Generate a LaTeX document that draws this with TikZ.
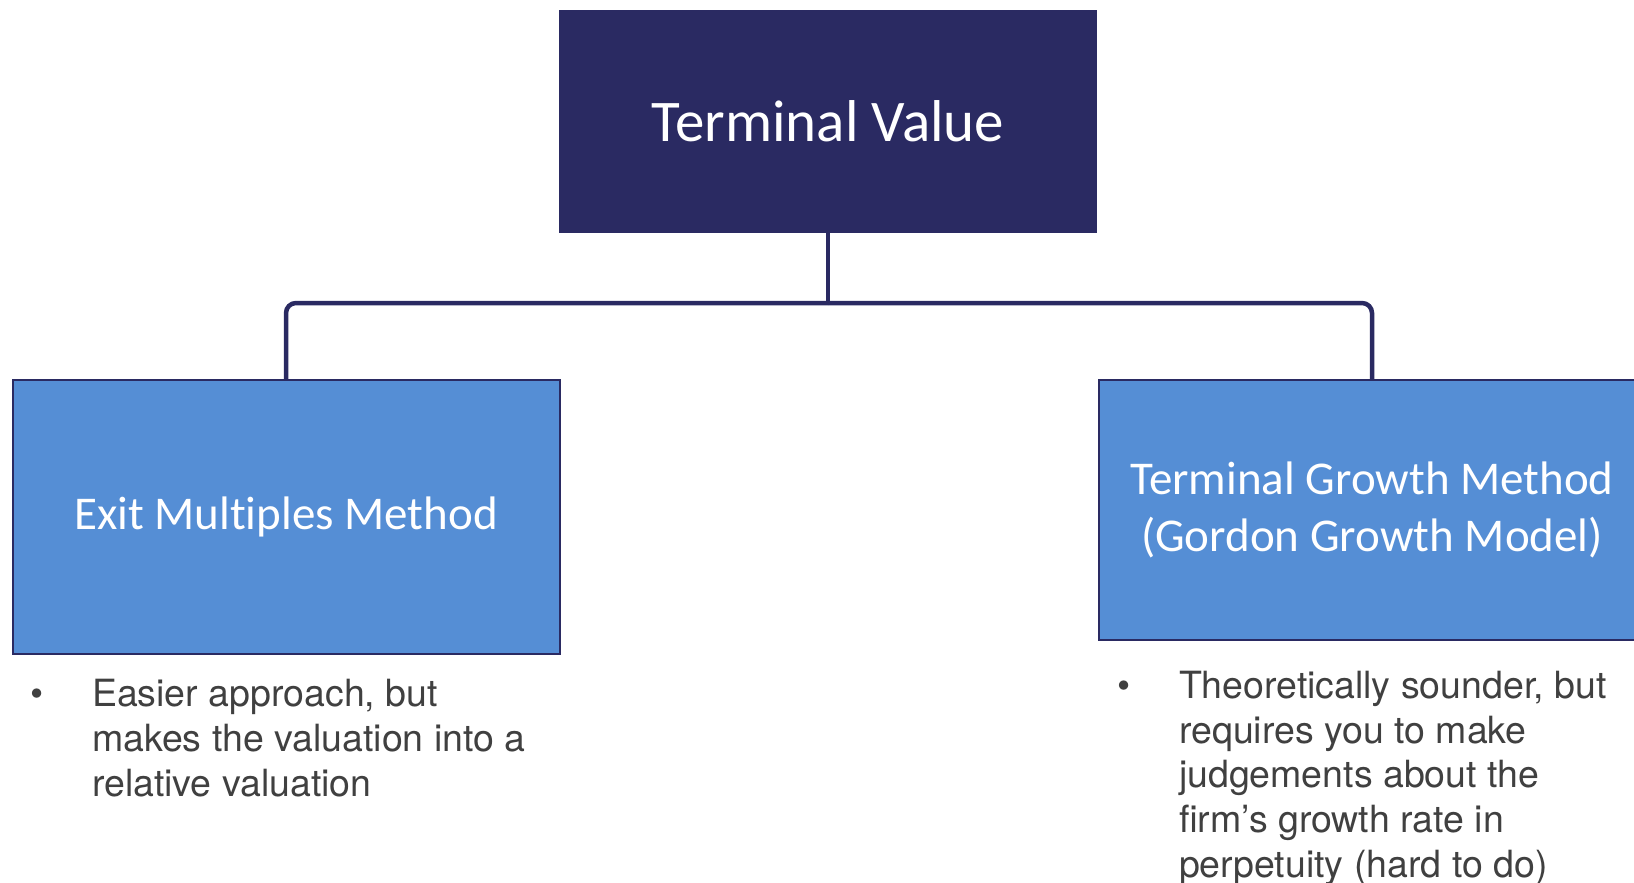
\documentclass[tikz,border=0pt]{standalone}
\usepackage{fontspec}
\newfontfamily\boxfont[Ligatures=NoCommon]{Carlito}
\newfontfamily\notefont{TeX Gyre Heros}
\usetikzlibrary{positioning,calc}
\definecolor{tvnavy}{RGB}{42,42,98}
\definecolor{tvblue}{RGB}{85,142,213}
\definecolor{notegray}{RGB}{64,64,64}

\begin{document}
\begin{tikzpicture}[x=1pt,y=1pt]
                    \tikzstyle{every node}=[inner sep=0,outer sep=0]
                    \tikzstyle{topbox}=[rectangle,fill=tvnavy,draw=tvnavy,line width=1.5,text=white,minimum width=536,minimum height=221,font=\boxfont\fontsize{59}{70}\selectfont]
                    \tikzstyle{methodbox}=[rectangle,fill=tvblue,draw=tvnavy,line width=2,text=white,minimum width=547,align=center,font=\boxfont\fontsize{47}{57}\selectfont]
                    \tikzstyle{note}=[anchor=north west,align=left,text=notegray,font=\notefont\fontsize{37.5}{44.8}\selectfont]
                    \tikzstyle{dot}=[anchor=base,text=notegray,font=\notefont\fontsize{37.5}{45}\selectfont]
                    \tikzstyle{link}=[draw=tvnavy,line width=4.5,rounded corners=10]
                    {
                        \useasboundingbox (0,0) rectangle (1634,-883);

                        \node[topbox] (tv) at (828,-121.5) {Terminal Value};
                        \node[methodbox,minimum height=274] (exit) at (286,-517) {Exit Multiples Method};
                        \node[methodbox,minimum height=260] (growth) at (1372,-510) {Terminal Growth Method\\(Gordon Growth Model)};

                        \draw[link] (tv.south) -- ++(0,-71) coordinate (fork);
                        \draw[link] (fork) -| (exit.north);
                        \draw[link] (fork) -| (growth.north);

                        \node[dot] (exitdot) at (37.5,-706.5) {\textbullet};
                        \node[note] (exitnote) at (92,-679.5) {Easier approach, but\\makes the valuation into a\\relative valuation};

                        \node[dot] (growthdot) at (1124,-698) {\textbullet};
                        \node[note] (growthnote) at (1179,-671) {Theoretically sounder, but\\requires you to make\\judgements about the\\firm’s growth rate in\\perpetuity (hard to do)};
                    }
                \end{tikzpicture}
\end{document}
